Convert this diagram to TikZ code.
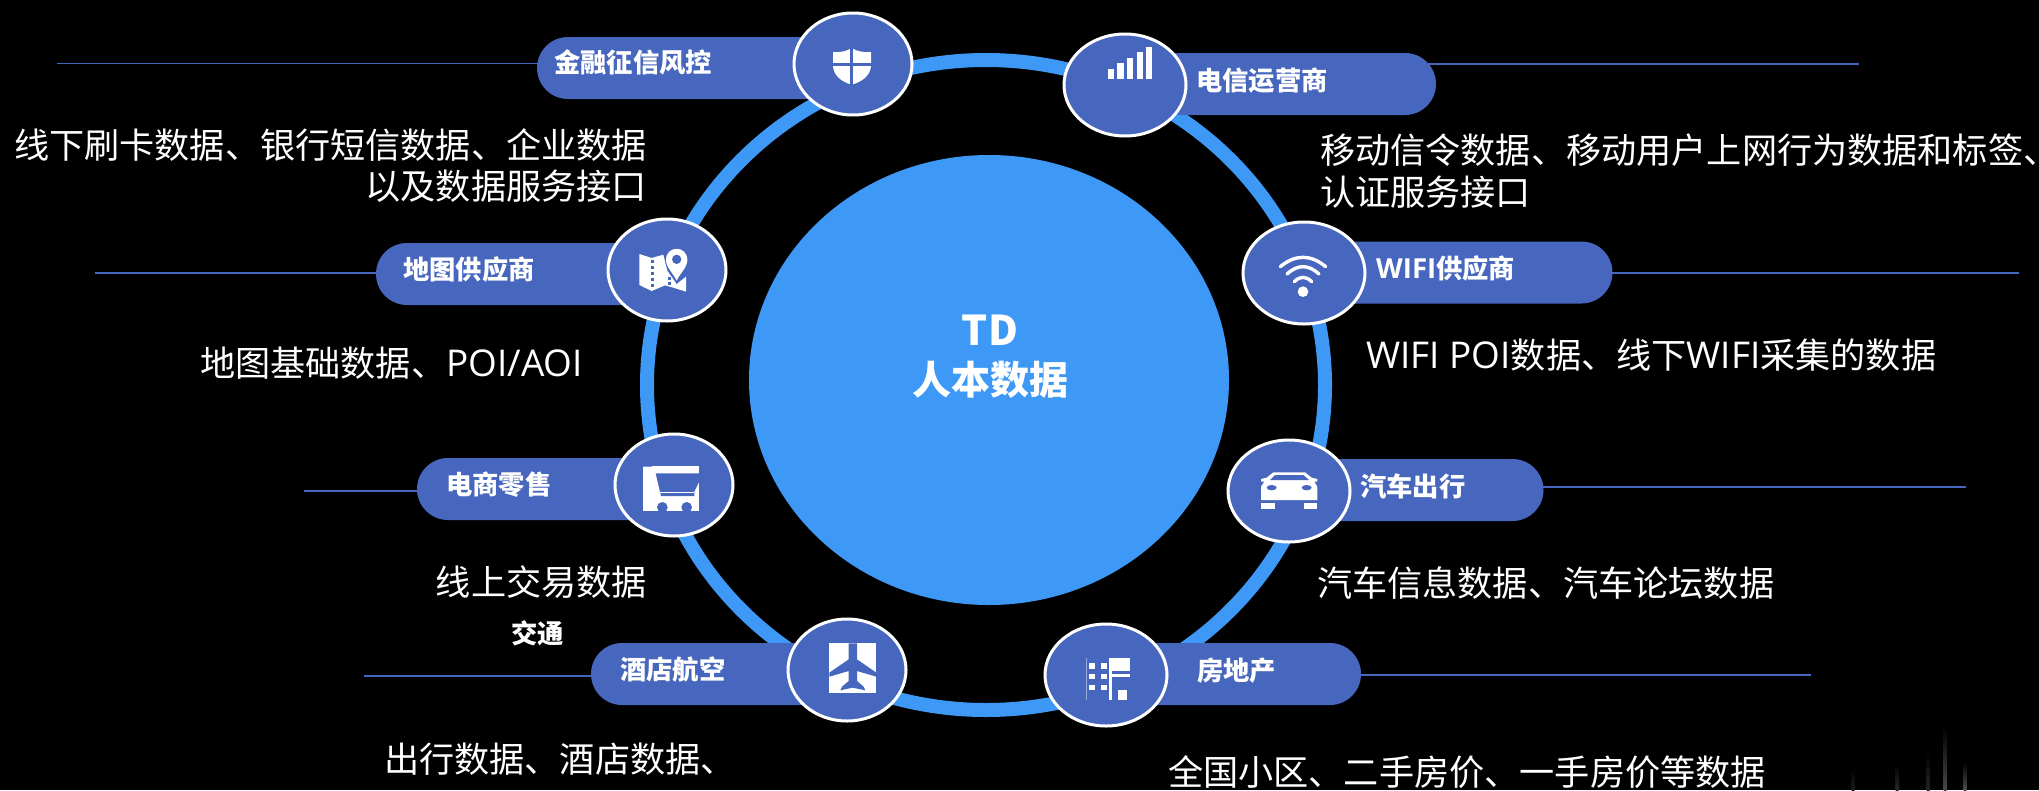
\documentclass[tikz,border=0pt]{standalone}
\usepackage{fontspec}
\setmainfont{Noto Sans CJK SC}
\newfontfamily\latinpart[Scale=1.05]{Open Sans}
\usetikzlibrary{shapes.geometric,shapes.misc}
\definecolor{pillblue}{HTML}{4766BD}
\definecolor{ringblue}{HTML}{3E98F5}
\pgfdeclarelayer{bg}
\pgfsetlayers{bg,main}
\tikzset{
  pill/.style={rounded rectangle,fill=pillblue,draw=none,minimum height=62pt,inner sep=0pt,outer sep=0pt},
  hub/.style={ellipse,fill=pillblue,draw=white,line width=3pt,inner sep=0pt,outer sep=0pt,minimum width=118pt,minimum height=102pt},
  leader/.style={draw=pillblue,line width=1.7pt},
  tag/.style={font=\bfseries\fontsize{26.3pt}{30pt}\selectfont,text=white,inner sep=0pt,text height=23.1pt,text depth=3.2pt},
  body/.style={font=\fontsize{35.15pt}{42pt}\selectfont,text=white,inner sep=0pt,text height=30.9pt,text depth=4.25pt},
  coretag/.style={font=\bfseries\fontsize{39pt}{46pt}\selectfont,text=white,inner sep=0pt,text height=34.3pt,text depth=4.7pt},
  zoomed/.style={x=0.33333pt,y=-0.33333pt},
  ico/.style={fill=white,draw=none},
  cut/.style={fill=pillblue,draw=none},
}
\begin{document}
\begin{tikzpicture}[x=1pt,y=-1pt]
\useasboundingbox (0,0) rectangle (2039,790);
% hub ring and centre
\node[ellipse,draw=ringblue,line width=14pt,minimum width=678pt,minimum height=650pt,inner sep=0pt,outer sep=0pt] (ring) at (986,385) {};
\node[ellipse,fill=ringblue,minimum width=480pt,minimum height=450pt,inner sep=0pt,outer sep=0pt] (core) at (989,380) {};
\node[coretag,font=\bfseries\fontsize{41pt}{46pt}\selectfont] (coretop) at (990,331) {TD};
\node[coretag] (corebot) at (990,380) {人本数据};

% pills
\node[pill,minimum width=316pt] (pfin) at (695,68) {};
\node[pill,minimum width=291pt] (pmap) at (521.5,274) {};
\node[pill,minimum width=257pt] (pshop) at (545.5,489) {};
\node[pill,minimum width=256pt] (photel) at (719,674) {};
\node[pill,minimum width=311pt] (ptel) at (1280.5,84) {};
\node[pill,minimum width=308pt] (pwifi) at (1458.5,272.5) {};
\node[pill,minimum width=254pt] (pcar) at (1416.5,490) {};
\node[pill,minimum width=255pt] (phouse) at (1233.5,674) {};

% leaders
\coordinate (lfin) at (57,63.5);
\coordinate (lmap) at (95,273);
\coordinate (lshop) at (304,491);
\coordinate (lhotel) at (364,676);
\coordinate (ltel) at (1859,64);
\coordinate (lwifi) at (2019,273);
\coordinate (lcar) at (1966,487);
\coordinate (lhouse) at (1811,675);
\begin{pgfonlayer}{bg}
\fill[black] (0,0) rectangle (2039,790);
\foreach \a/\b in {lfin/pfin,lmap/pmap,lshop/pshop,lhotel/photel,ltel/ptel,lwifi/pwifi,lcar/pcar,lhouse/phouse}
  \draw[leader] (\a) -- (\a -| \b.center);
% faint streaks, lower right corner
\foreach \sx/\sy/\op in {1945/725/28,1965/762/30,1928/750/14,1897/765/16,1853/768/10}
  \shade[top color=black,bottom color=white!\op!black,draw=none] (\sx-1.5,\sy) rectangle (\sx+1.5,790);
\end{pgfonlayer}

% hubs
\node[hub] (hfin) at (853,64) {};
\node[hub] (hmap) at (667,270) {};
\node[hub] (hshop) at (674,485) {};
\node[hub] (hhotel) at (847,670) {};
\node[hub,minimum width=122pt] (htel) at (1125,85) {};
\node[hub,minimum width=122pt] (hwifi) at (1304,273) {};
\node[hub,minimum width=122pt] (hcar) at (1289,491) {};
\node[hub,minimum width=122pt] (hhouse) at (1106,675) {};

% shield
\begin{scope}[shift={(825,42)},zoomed]
\fill[ico] (24,30) .. controls (45,32) and (65,28) .. (80,18) .. controls (95,28) and (115,32) .. (138,30) -- (138,70) .. controls (138,100) and (110,120) .. (80,128) .. controls (50,120) and (24,100) .. (24,70) -- cycle;
\fill[cut] (75,10) rectangle (85,135);
\fill[cut] (15,62) rectangle (145,72);
\end{scope}

% map
\begin{scope}[shift={(630,240)},zoomed]
\fill[ico] (28,42) -- (65,54) -- (100,44) -- (112,92) -- (140,132) -- (168,110) -- (168,155) -- (130,143) -- (105,136) -- (65,153) -- (28,135) -- cycle;
\foreach \d in {60,78,96,114,132} \fill[cut] (64,\d) rectangle (72,\d+10);
\foreach \d in {110,125} \fill[cut] (114,\d) rectangle (122,\d+9);
\fill[cut] (106,60) .. controls (106,25) and (174,25) .. (174,60) .. controls (174,85) and (150,110) .. (140,132) .. controls (130,110) and (106,85) .. (106,60) -- cycle;
\fill[ico] (108,60) .. controls (108,15) and (172,15) .. (172,60) .. controls (172,82) and (150,100) .. (140,122) .. controls (130,100) and (108,82) .. (108,60) -- cycle;
\fill[cut] (140,58) circle[radius=14];
\end{scope}

% cart
\begin{scope}[shift={(635,458)},zoomed]
\fill[ico] (24,24) rectangle (192,158);
\fill[cut] (62,46) -- (192,46) -- (192,72) -- (178,100) -- (178,114) -- (78,114) -- cycle;
\fill[ico] (74,101) rectangle (178,104);
\fill[pillblue!70!white] (24,24) rectangle (50,27);
\begin{scope}
\clip (24,24) rectangle (192,158);
\fill[cut] (82,148) circle[radius=16];
\fill[cut] (155,148) circle[radius=16];
\end{scope}
\end{scope}

% plane
\begin{scope}[shift={(822,636)},zoomed]
\fill[ico] (22,22) rectangle (163,170);
\fill[cut] (80,22) -- (105,22) -- (105,70) -- (163,110) -- (163,122) -- (105,105) -- (105,135) -- (125,152) -- (130,163) -- (92,155) -- (55,163) -- (60,152) -- (80,135) -- (80,105) -- (22,122) -- (22,110) -- (80,70) -- cycle;
\end{scope}

% signal bars
\begin{scope}[shift={(1020,0)},zoomed]
\foreach \l/\r/\t in {265/283/208,292/312/190,322/340/173,350/368/155,377/396/140}
  \fill[ico] (\l,\t) rectangle (\r,238);
\end{scope}

% wifi
\begin{scope}[shift={(1265,250)},zoomed]
\draw[white,line width=3.4pt,line cap=round] (46,50) .. controls (91,12.7) and (137,12.7) .. (182,50);
\draw[white,line width=3.4pt,line cap=round] (66,72) .. controls (98,42.7) and (130,42.7) .. (162,72);
\draw[white,line width=3.4pt,line cap=round] (88,95) .. controls (105,77.7) and (123,77.7) .. (140,95);
\fill[ico] (114,125) circle[radius=16];
\end{scope}

% car
\begin{scope}[shift={(1255,465)},zoomed]
\fill[ico] (55,22) -- (150,22) -- (170,38) -- (187,42) -- (187,50) -- (178,50) -- (187,65) -- (187,105) -- (18,105) -- (18,65) -- (28,50) -- (18,50) -- (18,42) -- (35,38) -- cycle;
\fill[cut] (60,30) -- (145,30) -- (162,45) -- (45,45) -- cycle;
\fill[cut] (50,68) ellipse[x radius=15,y radius=8];
\fill[cut] (155,68) ellipse[x radius=15,y radius=8];
\fill[ico] (18,113) rectangle (60,132);
\fill[ico] (147,113) rectangle (187,132);
\end{scope}

% building
\begin{scope}[shift={(1020,430)},zoomed]
\draw[white,opacity=.45,line width=.7pt] (199,685) -- (199,810);
\foreach \l in {207,242} \foreach \t in {700,732,764} \fill[ico] (\l,\t) rectangle (\l+18,\t+16);
\fill[ico] (267,685) rectangle (276,810);
\fill[ico] (267,685) rectangle (330,722);
\fill[ico] (267,732) rectangle (330,742);
\fill[ico] (295,780) rectangle (320,810);
\end{scope}

% tags
\node[tag,anchor=west] (tfin) at (554,63) {金融征信风控};
\node[tag,anchor=west] (tmap) at (403,270) {地图供应商};
\node[tag,anchor=west] (tshop) at (446,485) {电商零售};
\node[tag,anchor=west] (thotel) at (620,670) {酒店航空};
\node[tag,anchor=west] (ttraffic) at (511,634) {交通};
\node[tag,anchor=west] (ttel) at (1196,81) {电信运营商};
\node[tag,anchor=west] (twifi) at (1376,269) {{\latinpart WIFI}供应商};
\node[tag,anchor=west] (tcar) at (1360,487) {汽车出行};
\node[tag,anchor=west] (thouse) at (1197,671) {房地产};

% descriptions
\node[body,anchor=east] (dfin1) at (647,145) {线下刷卡数据、银行短信数据、企业数据};
\node[body,anchor=east] (dfin2) at (647,186) {以及数据服务接口};
\node[body,anchor=west] (dmap) at (200,363) {地图基础数据、{\latinpart POI/AOI}};
\node[body,anchor=east] (dshop) at (647,582) {线上交易数据};
\node[body,anchor=west] (dhotel) at (384,759) {出行数据、酒店数据、};
\node[body,anchor=west] (dtel1) at (1320,150) {移动信令数据、移动用户上网行为数据和标签\rlap{、}};
\node[body,anchor=west] (dtel2) at (1320,192) {认证服务接口};
\node[body,anchor=west] (dwifi) at (1366,355) {{\latinpart WIFI POI}数据、线下{\latinpart WIFI}采集的数据};
\node[body,anchor=west] (dcar) at (1317,583) {汽车信息数据、汽车论坛数据};
\node[body,anchor=west] (dhouse) at (1168,772) {全国小区、二手房价、一手房价等数据};
\end{tikzpicture}
\end{document}
